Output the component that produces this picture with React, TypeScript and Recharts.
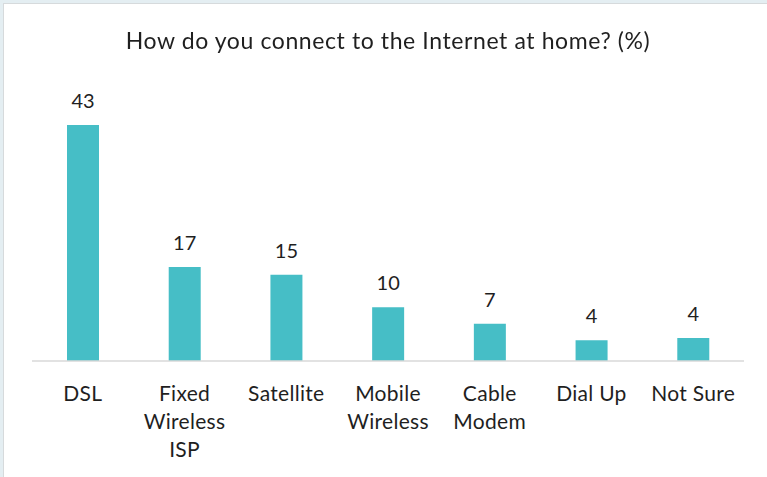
import React from "react";
import { BarChart, Bar, XAxis, YAxis, LabelList } from "recharts";

const categories = ["DSL", "Fixed Wireless ISP", "Satellite", "Mobile Wireless", "Cable Modem", "Dial Up", "Not Sure"];
const categoryLines = [["DSL"], ["Fixed", "Wireless", "ISP"], ["Satellite"], ["Mobile", "Wireless"], ["Cable", "Modem"], ["Dial Up"], ["Not Sure"]];
const values = [43, 17.1, 15.7, 9.8, 6.8, 3.8, 4.2];
const labels = ["43", "17", "15", "10", "7", "4", "4"];
const title = "How do you connect to the Internet at home? (%)";

const data = categories.map((c, i) => ({ name: c, value: values[i], label: labels[i], idx: i }));

const FONT = "Lato, 'Noto Sans', sans-serif";
const TEXT = "#1f1f1f";

const Tick = (props: any) => {
  const { x, y, payload } = props;
  const lines = categoryLines[payload.index] || [payload.value];
  return (
    <text x={x} y={y + 40} textAnchor="middle" fill={TEXT} fontFamily={FONT} fontSize={21} letterSpacing={0.3}>
      {lines.map((l: string, i: number) => (
        <tspan key={i} x={x} dy={i === 0 ? 0 : 28}>{l}</tspan>
      ))}
    </text>
  );
};

export default function App() {
  return (
    <div style={{ position: "fixed", left: 0, top: 0, width: 767, height: 477, background: "#e4eef2" }}>
      <div style={{ position: "absolute", left: 3, top: 3, width: 764, height: 474, background: "#fff", borderLeft: "1px solid #d6dadc", borderTop: "1px solid #d6dadc" }} />
      <div style={{ position: "absolute", left: 0, top: 0 }}>
        <BarChart width={767} height={477} data={data} margin={{ top: 86.5, right: 23, bottom: 86, left: 32 }} barCategoryGap={0}>
          <XAxis dataKey="name" height={30} tick={<Tick />} tickLine={false} tickSize={0} tickMargin={0} axisLine={{ stroke: "#d9d9d9", strokeWidth: 1.5 }} interval={0} />
          <YAxis hide domain={[0, 50]} />
          <Bar dataKey="value" fill="#46bec6" barSize={32} isAnimationActive={false}>
            <LabelList dataKey="label" position="top" offset={17} fill={TEXT} fontFamily={FONT} fontSize={20} />
          </Bar>
        </BarChart>
      </div>
      <div style={{ position: "absolute", left: 0, top: 26, width: 776, textAlign: "center", fontFamily: FONT, fontSize: 23, letterSpacing: 0.6, color: TEXT, whiteSpace: "nowrap" }}>
        {title}
      </div>
    </div>
  );
}
